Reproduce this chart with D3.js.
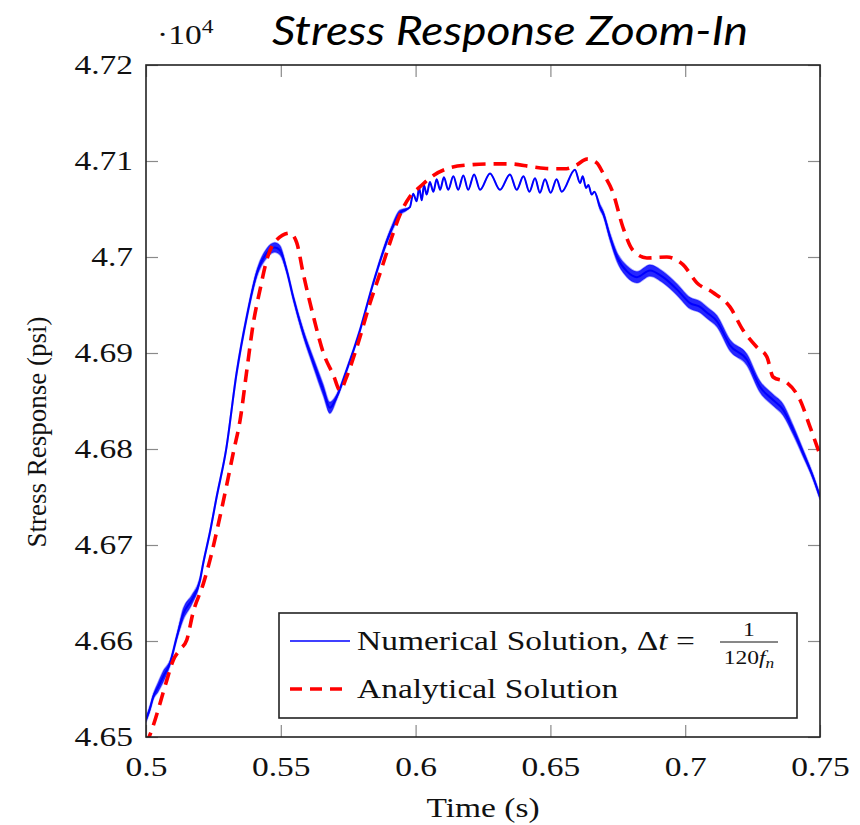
<!DOCTYPE html>
<html>
<head>
<meta charset="utf-8">
<script src="https://cdn.jsdelivr.net/npm/d3@7/dist/d3.min.js"></script>
<style>
  body { margin: 0; background: #fff; }
  svg { display: block; }
</style>
</head>
<body>
<div id="chart"></div>
<script>
// Numerical solution (blue): time (s), stress (psi), visible oscillation half-width (psi)
const numTime = [0.5000, 0.5015, 0.5027, 0.5045, 0.5064, 0.5089, 0.5114, 0.5138, 0.5170, 0.5200,
  0.5213, 0.5237, 0.5262, 0.5297, 0.5336, 0.5374, 0.5411, 0.5448, 0.5478, 0.5497,
  0.5522, 0.5546, 0.5583, 0.5621, 0.5658, 0.5682, 0.5707, 0.5744, 0.5794, 0.5843,
  0.5905, 0.5942, 0.5979, 0.5991, 0.6004, 0.6013, 0.6023, 0.6031, 0.6041, 0.6053,
  0.6066, 0.6078, 0.6091, 0.6105, 0.6121, 0.6140, 0.6158, 0.6177, 0.6195, 0.6217,
  0.6239, 0.6276, 0.6313, 0.6350, 0.6375, 0.6400, 0.6422, 0.6443, 0.6461, 0.6480,
  0.6501, 0.6523, 0.6542, 0.6591, 0.6610, 0.6620, 0.6632, 0.6641, 0.6653, 0.6663,
  0.6684, 0.6695, 0.6721, 0.6747, 0.6784, 0.6821, 0.6869, 0.6918, 0.6970, 0.7018,
  0.7055, 0.7081, 0.7118, 0.7166, 0.7229, 0.7277, 0.7326, 0.7363, 0.7400, 0.7437,
  0.7474, 0.7500];
const numStress = [46518, 46530, 46542, 46552, 46563, 46577, 46604, 46628, 46643, 46663,
  46682, 46713, 46750, 46799, 46879, 46938, 46983, 47004, 47010, 47007,
  46986, 46958, 46921, 46890, 46861, 46843, 46854, 46882, 46924, 46973,
  47025, 47046, 47052, 47066, 47058, 47072, 47059, 47075, 47065, 47078,
  47068, 47081, 47070, 47083, 47070, 47084, 47070, 47085, 47070, 47086,
  47070, 47087, 47070, 47086, 47070, 47084, 47068, 47082, 47067, 47081,
  47067, 47081, 47068, 47091, 47077, 47084, 47072, 47075, 47065, 47068,
  47052, 47046, 47021, 47000, 46985, 46979, 46986, 46979, 46966, 46952,
  46948, 46942, 46933, 46908, 46893, 46865, 46851, 46841, 46820, 46796,
  46771, 46750];
const numSpread = [3, 3, 3, 5, 6, 3, 3, 6, 5, 3,
  2, 2, 2, 2, 3, 3, 4, 5, 5, 5,
  3, 3, 4, 5, 6, 6, 3, 2, 2, 2,
  3, 3, 0, 0, 0, 0, 0, 0, 0, 0,
  0, 0, 0, 0, 0, 0, 0, 0, 0, 0,
  0, 0, 0, 0, 0, 0, 0, 0, 0, 0,
  0, 0, 0, 0, 0, 0, 0, 0, 0, 0,
  3, 3, 4, 5, 6, 6, 6, 6, 6, 6,
  6, 6, 6, 6, 6, 6, 6, 6, 5, 4,
  3, 3];

// Analytical solution (red dashed): time (s), stress (psi)
const anaTime = [0.5000, 0.5021, 0.5052, 0.5077, 0.5101, 0.5126, 0.5151, 0.5175, 0.5213, 0.5237,
  0.5274, 0.5326, 0.5349, 0.5374, 0.5398, 0.5423, 0.5448, 0.5485, 0.5534, 0.5559,
  0.5583, 0.5621, 0.5658, 0.5695, 0.5720, 0.5744, 0.5782, 0.5831, 0.5868, 0.5905,
  0.5942, 0.5979, 0.6016, 0.6066, 0.6128, 0.6202, 0.6276, 0.6350, 0.6431, 0.6499,
  0.6560, 0.6598, 0.6635, 0.6672, 0.6696, 0.6732, 0.6769, 0.6806, 0.6858, 0.6932,
  0.6992, 0.7044, 0.7103, 0.7166, 0.7214, 0.7266, 0.7303, 0.7326, 0.7378, 0.7426,
  0.7463, 0.7500];
const anaStress = [46492, 46507, 46535, 46559, 46580, 46591, 46601, 46630, 46660, 46684,
  46729, 46799, 46830, 46882, 46931, 46966, 46997, 47018, 47025, 47015,
  46983, 46938, 46900, 46877, 46861, 46875, 46906, 46952, 46983, 47015,
  47044, 47063, 47073, 47085, 47093, 47096, 47097, 47097, 47094, 47092,
  47092, 47096, 47102, 47098, 47087, 47067, 47031, 47007, 46999, 47000,
  46992, 46973, 46963, 46948, 46924, 46906, 46896, 46875, 46869, 46851,
  46823, 46794];

const xTicks = [0.5, 0.55, 0.6, 0.65, 0.7, 0.75];
const yTicks = [46500, 46600, 46700, 46800, 46900, 47000, 47100, 47200];

const width = 860;
const height = 825;
const margin = { top: 65, right: 40, bottom: 88, left: 146 };
const serif = "'Liberation Serif', 'Times New Roman', serif";
const stretch = 1.24; // the LaTeX figure text is widened horizontally

const numData = numTime.map((t, i) => ({ t, v: numStress[i], s: numSpread[i] }));
const anaData = anaTime.map((t, i) => ({ t, v: anaStress[i] }));

const svg = d3.select("#chart").append("svg")
    .attr("width", width)
    .attr("height", height);

const x = d3.scaleLinear()
    .domain([0.5, 0.75])
    .range([margin.left, width - margin.right]);

const y = d3.scaleLinear()
    .domain([46500, 47200])
    .range([height - margin.bottom, margin.top]);

svg.append("clipPath")
    .attr("id", "plot-clip")
    .append("rect")
    .attr("x", margin.left)
    .attr("y", margin.top)
    .attr("width", x.range()[1] - margin.left)
    .attr("height", y.range()[0] - margin.top);

// ticks on all four sides, pointing inward
const tickLen = 12;
function styleTicks(g) {
    g.select(".domain").remove();
    g.selectAll(".tick line").attr("stroke", "#8a8a8a").attr("stroke-width", 1.2);
}

const xAxis = svg.append("g")
    .attr("transform", `translate(0,${y.range()[0]})`)
    .call(d3.axisBottom(x).tickValues(xTicks).tickSizeInner(-tickLen).tickSizeOuter(0)
        .tickPadding(20).tickFormat(d => String(+d.toFixed(2))))
    .call(styleTicks);
xAxis.selectAll(".tick text")
    .attr("font-family", serif)
    .attr("font-size", 27)
    .attr("fill", "#111")
    .attr("transform", `scale(${stretch},1)`);

svg.append("g")
    .attr("transform", `translate(0,${margin.top})`)
    .call(d3.axisTop(x).tickValues(xTicks).tickSizeInner(-tickLen).tickSizeOuter(0).tickFormat(""))
    .call(styleTicks);

const yAxis = svg.append("g")
    .attr("transform", `translate(${margin.left},0)`)
    .call(d3.axisLeft(y).tickValues(yTicks).tickSizeInner(-tickLen).tickSizeOuter(0)
        .tickPadding(13 / stretch).tickFormat(d => String(+(d / 10000).toFixed(2))))
    .call(styleTicks);
yAxis.selectAll(".tick text")
    .attr("font-family", serif)
    .attr("font-size", 27)
    .attr("fill", "#111")
    .attr("transform", `scale(${stretch},1)`);

svg.append("g")
    .attr("transform", `translate(${x.range()[1]},0)`)
    .call(d3.axisRight(y).tickValues(yTicks).tickSizeInner(-tickLen).tickSizeOuter(0).tickFormat(""))
    .call(styleTicks);

// curves
const plot = svg.append("g").attr("clip-path", "url(#plot-clip)");

const band = d3.area()
    .x(d => x(d.t))
    .y0(d => y(d.v - d.s))
    .y1(d => y(d.v + d.s))
    .curve(d3.curveMonotoneX);

const line = d3.line()
    .x(d => x(d.t))
    .y(d => y(d.v))
    .curve(d3.curveMonotoneX);

plot.append("path")
    .datum(numData)
    .attr("fill", "#0000ff")
    .attr("fill-opacity", 0.85)
    .attr("stroke", "#0000ff")
    .attr("stroke-opacity", 0.35)
    .attr("stroke-width", 1.5)
    .attr("d", band);

plot.append("path")
    .datum(numData)
    .attr("fill", "none")
    .attr("stroke", "#0000ff")
    .attr("stroke-width", 2)
    .attr("d", line);

plot.append("path")
    .datum(anaData)
    .attr("fill", "none")
    .attr("stroke", "#ff0000")
    .attr("stroke-width", 3.6)
    .attr("stroke-dasharray", "13 8")
    .attr("d", line);

// frame
svg.append("rect")
    .attr("x", margin.left)
    .attr("y", margin.top)
    .attr("width", x.range()[1] - margin.left)
    .attr("height", y.range()[0] - margin.top)
    .attr("fill", "none")
    .attr("stroke", "#222")
    .attr("stroke-width", 1.6);

// helper for widened serif text
function serifText(px, py, str, size, anchor) {
    return svg.append("text")
        .attr("transform", `translate(${px},${py}) scale(${stretch},1)`)
        .attr("text-anchor", anchor || "start")
        .attr("font-family", serif)
        .attr("font-size", size)
        .attr("fill", "#111")
        .text(str);
}

// legend
const legend = svg.append("g");
legend.append("rect")
    .attr("x", 279)
    .attr("y", 613)
    .attr("width", 518)
    .attr("height", 105)
    .attr("fill", "#fff")
    .attr("stroke", "#222")
    .attr("stroke-width", 1.6);

legend.append("line")
    .attr("x1", 290).attr("x2", 350)
    .attr("y1", 641).attr("y2", 641)
    .attr("stroke", "#0000ff")
    .attr("stroke-width", 1.5);

legend.append("line")
    .attr("x1", 290).attr("x2", 346)
    .attr("y1", 689).attr("y2", 689)
    .attr("stroke", "#ff0000")
    .attr("stroke-width", 3.6)
    .attr("stroke-dasharray", "12 8");

const numLabel = serifText(357, 650, "", 27);
numLabel.append("tspan").text("Numerical Solution, Δ");
numLabel.append("tspan").attr("font-style", "italic").text("t");
numLabel.append("tspan").text(" =");

serifText(749, 636, "1", 19, "middle");
svg.append("line")
    .attr("x1", 720).attr("x2", 778)
    .attr("y1", 642).attr("y2", 642)
    .attr("stroke", "#111")
    .attr("stroke-width", 1);
const den = serifText(749, 664, "", 19, "middle");
den.append("tspan").text("120");
den.append("tspan").attr("font-style", "italic").text("f");
den.append("tspan").attr("font-style", "italic").attr("font-size", 14).attr("dy", 4).text("n");

serifText(357, 698, "Analytical Solution", 27);

// axis titles
serifText(483, 817, "Time (s)", 27, "middle");
svg.append("text")
    .attr("transform", "translate(46,432) rotate(-90)")
    .attr("text-anchor", "middle")
    .attr("font-family", serif)
    .attr("font-size", 27)
    .attr("fill", "#111")
    .text("Stress Response (psi)");

// exponent marker
const expo = serifText(157, 44, "·10", 27);
expo.append("tspan").attr("font-size", 19).attr("dy", -11).text("4");

// slide title
svg.append("text")
    .attr("x", 510)
    .attr("y", 45)
    .attr("text-anchor", "middle")
    .attr("font-family", "Lato, 'Open Sans', sans-serif")
    .attr("font-style", "italic")
    .attr("font-size", 40)
    .attr("fill", "#000")
    .attr("textLength", 476)
    .attr("lengthAdjust", "spacingAndGlyphs")
    .text("Stress Response Zoom-In");
</script>
</body>
</html>
